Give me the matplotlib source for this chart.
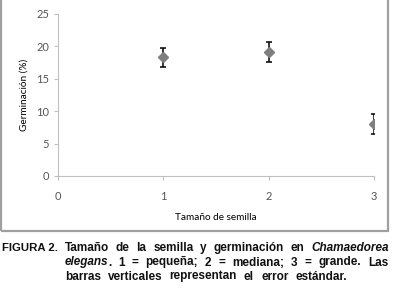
import matplotlib
matplotlib.use('Agg')
import matplotlib.pyplot as plt
from matplotlib.patches import Rectangle

# data
tamano = [1, 2, 3]
germinacion = [18.3, 19.2, 8.0]
error = [1.5, 1.55, 1.55]
y_ticks = [0, 5, 10, 15, 20, 25]
x_ticks = [0, 1, 2, 3]

W, H = 394, 290
fig = plt.figure(figsize=(W / 100, H / 100), dpi=100)

# grey frame round the chart area (top edge lies outside the image)
fig.patches.append(Rectangle((0.8 / W, 1 - 231 / H), 387.5 / W, 235 / H, transform=fig.transFigure,
                             fill=False, edgecolor='#a0a0a0', linewidth=1.6))

ax = fig.add_axes([58 / W, 1 - 176 / H, (374 - 58) / W, (176 - 14) / H])
ax.errorbar(tamano, germinacion, yerr=error, fmt='D', color='#7f7f7f', markersize=5,
            ecolor='black', elinewidth=1.1, capsize=2.5, capthick=1.1)
ax.set_xlim(0, 3)
ax.set_ylim(0, 25)
ax.set_xticks(x_ticks)
ax.set_yticks(y_ticks)
for s in ['top', 'right']:
    ax.spines[s].set_visible(False)
for s in ['left', 'bottom']:
    ax.spines[s].set_color('#c0c0c0')
    ax.spines[s].set_linewidth(0.8)
ax.tick_params(colors='#c0c0c0', labelcolor='#555555', labelsize=8, length=3, width=0.8)
ax.tick_params(axis='x', pad=8)
for lab in ax.get_xticklabels() + ax.get_yticklabels():
    lab.set_family('Lato')
ax.set_xlabel('Tamaño de semilla', fontsize=7.2, family='Lato', labelpad=8)
ax.set_ylabel('Germinación (%)', fontsize=7.2, family='Lato', labelpad=5)

# caption, justified word by word
cap = dict(fontsize=8.5, fontweight='bold', family='Liberation Sans', color='#111111')
lines = [
    (251, [[('Tamaño', 0)], [('de', 0)], [('la', 0)], [('semilla', 0)], [('y', 0)],
           [('germinación', 0)], [('en', 0)], [('Chamaedorea', 1)]], 388),
    (265.5, [[('elegans', 1), ('.', 0)], [('1', 0)], [('=', 0)], [('pequeña;', 0)], [('2', 0)],
             [('=', 0)], [('mediana;', 0)], [('3', 0)], [('=', 0)], [('grande.', 0)], [('Las', 0)]], 388),
    (279.5, [[('barras', 0)], [('verticales', 0)], [('representan', 0)], [('el', 0)],
             [('error', 0)], [('estándar.', 0)]], 376),
]
fig.text(2 / W, 1 - 251 / H, 'FIGURA 2.', va='baseline', **dict(cap, fontsize=8.2))
fig.canvas.draw()
r = fig.canvas.get_renderer()
left = 65
for yb, words, right in lines:
    built = []
    for w in words:
        segs = []
        for s, it in w:
            t = fig.text(0, 1 - yb / H, s, va='baseline', style='italic' if it else 'normal', **cap)
            segs.append((t, t.get_window_extent(r).width - (0.5 if it else 0)))
        built.append(segs)
    inner = sum(wd for segs in built for _, wd in segs)
    gap = min((right - left - inner) / (len(built) - 1), 7)
    x = left
    for segs in built:
        for t, wd in segs:
            t.set_x(x / W)
            x += wd
        x += gap

fig.savefig('out.png', dpi=100)
